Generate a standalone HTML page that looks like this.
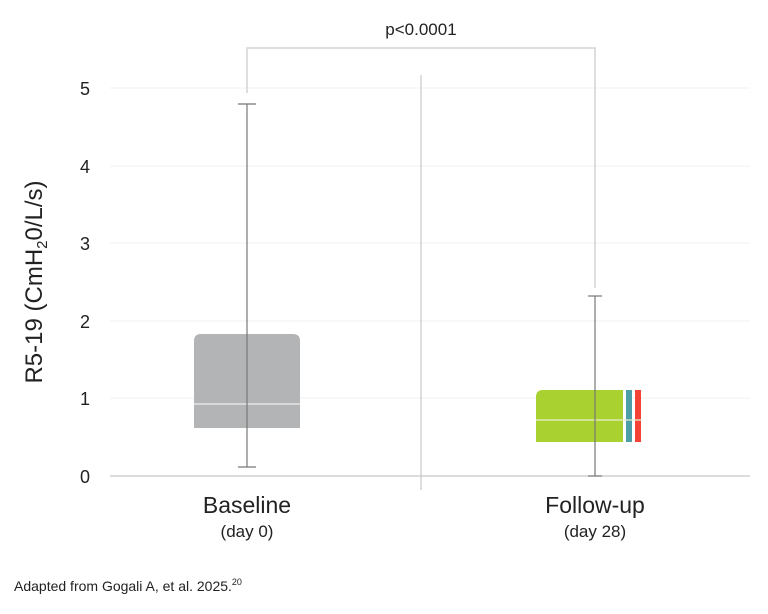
<!DOCTYPE html>
<html><head><meta charset="utf-8"><style>
body{margin:0;background:#fff;}
svg{display:block;font-family:"Liberation Sans",sans-serif;}
</style></head><body>
<svg width="768" height="614" viewBox="0 0 768 614">
<g stroke="#f0f0f0" stroke-width="1">
<line x1="110" y1="88" x2="750" y2="88"/>
<line x1="110" y1="166" x2="750" y2="166"/>
<line x1="110" y1="243" x2="750" y2="243"/>
<line x1="110" y1="321" x2="750" y2="321"/>
<line x1="110" y1="398" x2="750" y2="398"/>
</g>
<line x1="110" y1="476" x2="750" y2="476" stroke="#c8c8c8" stroke-width="1.2"/>
<g font-size="18" fill="#222" text-anchor="middle">
<text x="85" y="95">5</text><text x="85" y="173">4</text><text x="85" y="250">3</text>
<text x="85" y="328">2</text><text x="85" y="405">1</text><text x="85" y="483">0</text>
</g>
<text transform="translate(42,282) rotate(-90)" font-size="24" fill="#222" text-anchor="middle">R5-19 (CmH<tspan font-size="15" dy="5">2</tspan><tspan dy="-5">0/L/s)</tspan></text>
<line x1="421" y1="75" x2="421" y2="490" stroke="#c8c8c8" stroke-width="1.2"/>
<polyline points="247,93 247,48 595,48 595,288" fill="none" stroke="#d4d4d4" stroke-width="1.5"/>
<text x="421" y="35" font-size="17" fill="#222" text-anchor="middle">p&lt;0.0001</text>
<path d="M194,428 V341 Q194,334 201,334 H293 Q300,334 300,341 V428 Z" fill="#b3b4b6"/>
<line x1="194" y1="404" x2="300" y2="404" stroke="#eee" stroke-width="1.2"/>
<path d="M536,442 V397 Q536,390 543,390 H623 V442 Z" fill="#a9d12f"/>
<rect x="626" y="390" width="6" height="52" fill="#4d9ea6"/>
<rect x="635" y="390" width="6" height="52" fill="#f44336"/>
<line x1="536" y1="420" x2="641" y2="420" stroke="#e8efd0" stroke-width="1.2"/>
<g stroke="#777" stroke-width="1.2">
<line x1="247" y1="104" x2="247" y2="467"/><line x1="238" y1="104" x2="256" y2="104"/><line x1="238" y1="467" x2="256" y2="467"/>
<line x1="595" y1="296" x2="595" y2="476"/><line x1="588" y1="296" x2="602" y2="296"/><line x1="588" y1="476" x2="602" y2="476"/>
</g>
<g fill="#222" text-anchor="middle">
<text x="247" y="513" font-size="23">Baseline</text>
<text x="247" y="537" font-size="17">(day 0)</text>
<text x="595" y="513" font-size="23">Follow-up</text>
<text x="595" y="537" font-size="17">(day 28)</text>
</g>
<text x="14" y="591" font-size="14" fill="#222">Adapted from Gogali A, et al. 2025.<tspan font-size="9" dy="-6">20</tspan></text>
</svg>
</body></html>
